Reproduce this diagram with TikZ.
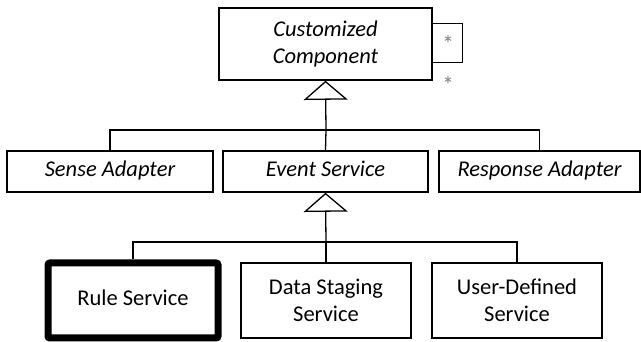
\documentclass[tikz,border=0pt]{standalone}
\usepackage{fontspec}
\setmainfont{Carlito}
\usetikzlibrary{arrows.meta}
\begin{document}
\begin{tikzpicture}[x=1pt, y=-1pt,
  cls/.style={draw, line width=1.6pt, align=center, inner sep=0pt,
    font=\fontsize{22.5}{27}\selectfont},
  abs/.style={cls, font=\fontsize{22.5}{27}\selectfont\itshape},
  oneline/.style={text height=15pt, text depth=5pt},
  conn/.style={line width=1.3pt},
  gen/.style={conn, -{Triangle[open, width=44pt, length=19pt]}}]
  \tikzset{mult/.style={text=gray, inner sep=0pt, font=\fontsize{24}{24}\selectfont}}
  \tikzset{focus/.style={cls, line width=7pt, rounded corners=2pt}}
  \useasboundingbox (0,0) rectangle (641,342);
  % top class
  \node[abs, minimum width=213pt, minimum height=72pt] (cc) at (325.5,44) {Customized\\Component};
  % middle row
  \node[abs, oneline, minimum width=206pt, minimum height=41pt] (sa) at (110,171.5) {Sense Adapter};
  \node[abs, oneline, minimum width=205pt, minimum height=41pt] (es) at (325.5,171.5) {Event Service};
  \node[abs, oneline, minimum width=201pt, minimum height=41pt] (ra) at (539.5,171.5) {Response Adapter};
  % bottom row
  \node[focus, oneline, minimum width=170pt, minimum height=75pt] (rs) at (133,300.5) {Rule Service};
  \node[cls, minimum width=170pt, minimum height=75pt] (ds) at (326,300.5) {Data Staging\\Service};
  \node[cls, minimum width=170pt, minimum height=75pt] (ud) at (517,300.5) {User-Defined\\Service};
  % bus points
  \coordinate (bus1) at (326,130);
  \coordinate (bus2) at (326,242);
  % generalization to Customized Component
  \draw[conn] (sa.north) |- (bus1) -| (ra.north);
  \draw[conn] (es.north) -- (bus1);
  \draw[gen] (bus1) -- (cc.south);
  % generalization to Event Service
  \draw[conn] (rs.north) |- (bus2) -| (ud.north);
  \draw[conn] (ds.north) -- (bus2);
  \draw[gen] (bus2) -- (es.south);
  % self association
  \draw[conn] ([yshift=-16pt]cc.north east) -- ++(30,0) |- ([yshift=-55pt]cc.north east);
  \node[mult] (m1) at (448,44) {*};
  \node[mult] (m2) at (448,85) {*};
\end{tikzpicture}
\end{document}
